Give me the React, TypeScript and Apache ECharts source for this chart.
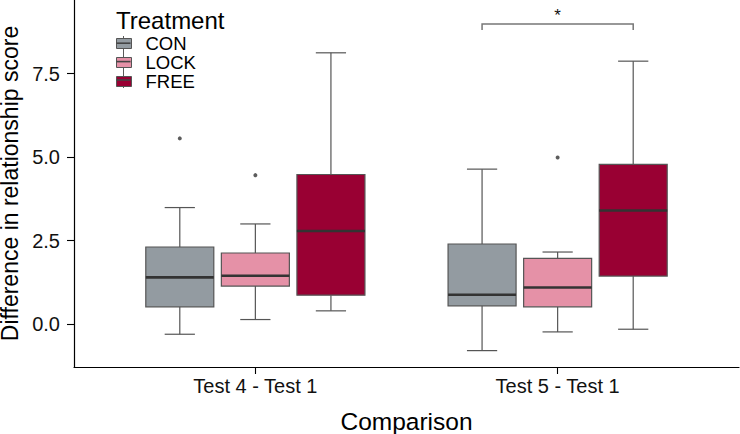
import React, { useEffect, useRef } from "react";
import * as echarts from "echarts";

// ---- data ----
const comparisons = ["Test 4 - Test 1", "Test 5 - Test 1"];
const treatments = ["CON", "LOCK", "FREE"];
const treatmentColors = ["#939ba1", "#e591a7", "#990033"];
// per comparison: [lower whisker, Q1, median, Q3, upper whisker]
const conStats = [
  [-0.3, 0.52, 1.4, 2.31, 3.49],
  [-0.79, 0.55, 0.88, 2.4, 4.64],
];
const lockStats = [
  [0.14, 1.14, 1.45, 2.13, 3.0],
  [-0.23, 0.52, 1.1, 1.97, 2.16],
];
const freeStats = [
  [0.4, 0.87, 2.79, 4.48, 8.12],
  [-0.15, 1.44, 3.4, 4.78, 7.87],
];
// [comparison index, treatment index, value]
const outliers = [
  [0, 0, 5.56],
  [0, 1, 4.46],
  [1, 1, 4.99],
];
const yTicks = [0, 2.5, 5, 7.5];
// significance bracket: comparison index, from treatment, to treatment, height, tick end, label
const bracketComparison = [1];
const bracketFrom = [0];
const bracketTo = [2];
const bracketY = [8.98];
const bracketTickEnd = [8.8];
const bracketLabel = ["*"];

const FONT = "Liberation Sans, Arial, sans-serif";
const dodge = [-0.25, 0, 0.25];
const boxHalf = 0.1125;
const capHalf = 0.05;

const LEGEND_TOP = 34;
const LEGEND_ROW = 18.4;
const LEGEND_LEFT = 116;
const KEY_W = 15;

function boxSeries(name: string, stats: number[][], k: number) {
  return {
    type: "custom",
    name,
    itemStyle: { color: treatmentColors[k], borderColor: "#555" },
    data: stats.map((s, i) => [i, ...s]),
    encode: { x: 0, y: [1, 2, 3, 4, 5] },
    renderItem: (params: any, api: any) => {
      const xi = api.value(0) + dodge[k];
      const lo = api.value(1);
      const q1 = api.value(2);
      const med = api.value(3);
      const q3 = api.value(4);
      const hi = api.value(5);
      const tl = api.coord([xi - boxHalf, q3]);
      const br = api.coord([xi + boxHalf, q1]);
      const pLo = api.coord([xi, lo]);
      const pQ1 = api.coord([xi, q1]);
      const pQ3 = api.coord([xi, q3]);
      const pHi = api.coord([xi, hi]);
      const capL = api.coord([xi - capHalf, lo]);
      const capR = api.coord([xi + capHalf, lo]);
      const capL2 = api.coord([xi - capHalf, hi]);
      const capR2 = api.coord([xi + capHalf, hi]);
      const mL = api.coord([xi - boxHalf, med]);
      const mR = api.coord([xi + boxHalf, med]);
      const wStyle = { stroke: "#555", lineWidth: 1.2 };
      return {
        type: "group",
        children: [
          { type: "line", shape: { x1: pLo[0], y1: pLo[1], x2: pQ1[0], y2: pQ1[1] }, style: wStyle },
          { type: "line", shape: { x1: pQ3[0], y1: pQ3[1], x2: pHi[0], y2: pHi[1] }, style: wStyle },
          { type: "line", shape: { x1: capL[0], y1: capL[1], x2: capR[0], y2: capR[1] }, style: wStyle },
          { type: "line", shape: { x1: capL2[0], y1: capL2[1], x2: capR2[0], y2: capR2[1] }, style: wStyle },
          {
            type: "rect",
            shape: { x: tl[0], y: tl[1], width: br[0] - tl[0], height: br[1] - tl[1] },
            style: { fill: treatmentColors[k], stroke: "#555", lineWidth: 1.2 },
          },
          {
            type: "line",
            shape: { x1: mL[0], y1: mL[1], x2: mR[0], y2: mR[1] },
            style: { stroke: "#333", lineWidth: 2.6 },
          },
        ],
      };
    },
  };
}

export default function App() {
  const ref = useRef<HTMLDivElement>(null);
  useEffect(() => {
    if (!ref.current) return;
    const chart = echarts.init(ref.current, null, { renderer: "svg" });
    const outlierData = outliers.map(([ci, ti, v]) => [ci + dodge[ti], v]);
    const bracketData = bracketComparison.map((ci, i) => [
      ci + dodge[bracketFrom[i]],
      ci + dodge[bracketTo[i]],
      bracketY[i],
      bracketTickEnd[i],
    ]);
    const keyMedians = treatments.map((_, i) => {
      const y = LEGEND_TOP + LEGEND_ROW * (i + 0.5);
      return {
        type: "line",
        z: 10,
        shape: { x1: LEGEND_LEFT + 0.5, y1: y, x2: LEGEND_LEFT + KEY_W - 0.5, y2: y },
        style: { stroke: "#444", lineWidth: 1.6 },
      };
    });
    chart.setOption({
      animation: false,
      textStyle: { fontFamily: FONT },
      grid: { left: 74, right: 1, top: 0, bottom: 67, containLabel: false, outerBoundsMode: "none" },
      title: {
        text: "Treatment",
        left: 116,
        top: 8,
        padding: 0,
        textStyle: { fontFamily: FONT, fontSize: 24, fontWeight: "normal", color: "#000" },
      },
      legend: {
        data: treatments,
        orient: "vertical",
        left: LEGEND_LEFT,
        top: LEGEND_TOP,
        padding: 0,
        itemGap: 0,
        itemWidth: KEY_W,
        itemHeight: 10,
        icon: "rect",
        itemStyle: { borderColor: "#555", borderWidth: 1 },
        selectedMode: false,
        textStyle: {
          fontFamily: FONT,
          fontSize: 18.5,
          lineHeight: LEGEND_ROW,
          color: "#000",
          padding: [0, 0, 0, 9],
        },
      },
      graphic: [
        {
          type: "line",
          z: 1,
          shape: { x1: LEGEND_LEFT + KEY_W / 2, y1: 36, x2: LEGEND_LEFT + KEY_W / 2, y2: 88 },
          style: { stroke: "#5a5a5a", lineWidth: 1 },
        },
        ...keyMedians,
      ],
      xAxis: {
        type: "value",
        min: -0.6,
        max: 1.6,
        splitLine: { show: false },
        axisLine: { show: true, onZero: false, lineStyle: { color: "#000", width: 1.2 } },
        axisTick: { show: true, length: 7, customValues: [0, 1], lineStyle: { color: "#000", width: 1.1 } },
        axisLabel: {
          customValues: [0, 1],
          formatter: (v: number) => comparisons[Math.round(v)] ?? "",
          fontFamily: FONT,
          fontSize: 20,
          color: "#111",
          margin: 9,
        },
        name: "Comparison",
        nameLocation: "middle",
        nameGap: 42,
        nameTextStyle: { fontFamily: FONT, fontSize: 24.5, color: "#000" },
      },
      yAxis: {
        type: "value",
        min: -1.28,
        max: 9.7,
        splitLine: { show: false },
        axisLine: { show: true, onZero: false, lineStyle: { color: "#000", width: 1.2 } },
        axisTick: { show: true, length: 7, customValues: yTicks, lineStyle: { color: "#000", width: 1.1 } },
        axisLabel: {
          customValues: yTicks,
          formatter: (v: number) => v.toFixed(1),
          fontFamily: FONT,
          fontSize: 20,
          color: "#111",
          margin: 14,
        },
        name: "Difference in relationship score",
        nameLocation: "middle",
        nameGap: 46,
        nameTextStyle: { fontFamily: FONT, fontSize: 23, color: "#000" },
      },
      series: [
        boxSeries("CON", conStats, 0),
        boxSeries("LOCK", lockStats, 1),
        boxSeries("FREE", freeStats, 2),
        {
          type: "scatter",
          name: "outliers",
          data: outlierData,
          symbolSize: 4,
          itemStyle: { color: "#333" },
          z: 5,
        },
        {
          type: "custom",
          name: "bracket",
          data: bracketData,
          encode: { x: [0, 1], y: [2, 3] },
          renderItem: (params: any, api: any) => {
            const a = api.coord([api.value(0), api.value(2)]);
            const b = api.coord([api.value(1), api.value(2)]);
            const a2 = api.coord([api.value(0), api.value(3)]);
            const b2 = api.coord([api.value(1), api.value(3)]);
            return {
              type: "group",
              children: [
                {
                  type: "polyline",
                  shape: { points: [a2, a, b, b2] },
                  style: { stroke: "#777", lineWidth: 1.5, fill: null },
                },
                {
                  type: "text",
                  style: {
                    text: bracketLabel[params.dataIndex],
                    x: (a[0] + b[0]) / 2,
                    y: a[1],
                    align: "center",
                    verticalAlign: "bottom",
                    fontSize: 17,
                    fontFamily: FONT,
                    fill: "#111",
                  },
                },
              ],
            };
          },
        },
      ],
    });
    return () => chart.dispose();
  }, []);
  return <div ref={ref} style={{ width: 740, height: 434, position: "absolute", left: 0, top: 0 }} />;
}
